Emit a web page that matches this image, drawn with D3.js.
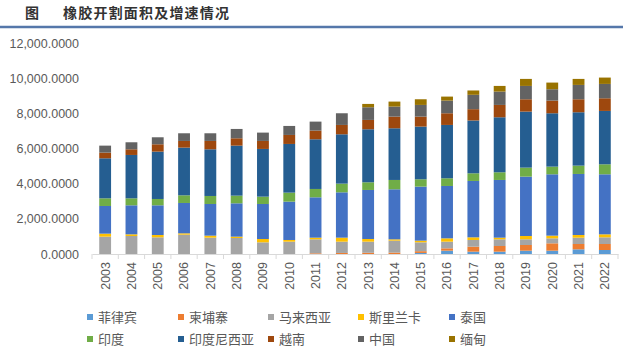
<!DOCTYPE html>
<html lang="zh">
<head>
    <meta charset="UTF-8"/>
    <title>橡胶开割面积及增速情况</title>
    <script src="https://cdn.jsdelivr.net/npm/d3@7"></script>
    <style>
        body { margin: 0; background: #fff; }
        text { font-family: "Liberation Sans", "Noto Sans CJK SC", sans-serif; }
    </style>
</head>
<body>
<div id="chart"></div>
<script>
    // data
    const years = ["2003", "2004", "2005", "2006", "2007", "2008", "2009", "2010", "2011", "2012",
        "2013", "2014", "2015", "2016", "2017", "2018", "2019", "2020", "2021", "2022"];
    const seriesNames = ["菲律宾", "柬埔寨", "马来西亚", "斯里兰卡", "泰国", "印度", "印度尼西亚", "越南", "中国", "缅甸"];
    const philippines = [0, 0, 0, 0, 0, 0, 0, 0, 0, 0, 0, 0, 60, 190, 133, 133, 190, 190, 265, 228];
    const cambodia = [0, 0, 0, 0, 0, 0, 0, 0, 40, 60, 70, 80, 100, 133, 284, 322, 322, 417, 304, 341];
    const malaysia = [986, 1024, 948, 1100, 929, 910, 664, 702, 795, 642, 632, 679, 504, 379, 380, 380, 323, 284, 360, 379];
    const sriLanka = [171, 95, 133, 76, 114, 76, 189, 95, 94, 227, 151, 76, 95, 189, 151, 94, 189, 152, 152, 171];
    const thailand = [1574, 1650, 1688, 1726, 1802, 1897, 1992, 2181, 2295, 2579, 2789, 2845, 3073, 2978, 3206, 3282, 3376, 3490, 3471, 3414];
    const india = [436, 398, 360, 436, 455, 436, 417, 512, 475, 494, 436, 531, 417, 437, 436, 436, 512, 436, 474, 569];
    const indonesia = [2276, 2466, 2694, 2712, 2655, 2844, 2713, 2769, 2825, 2806, 3016, 2939, 2996, 3034, 3003, 3129, 3187, 3035, 3035, 3035];
    const vietnam = [323, 322, 417, 380, 475, 418, 455, 512, 494, 532, 531, 664, 569, 664, 644, 702, 701, 720, 739, 720];
    const china = [397, 399, 398, 436, 436, 531, 474, 512, 511, 664, 720, 569, 664, 720, 816, 759, 759, 646, 816, 816];
    const myanmar = [0, 0, 0, 0, 0, 0, 0, 0, 0, 0, 190, 285, 322, 228, 247, 322, 399, 379, 342, 361];
    const yTicks = [0, 2000, 4000, 6000, 8000, 10000, 12000];

    const seriesValues = [philippines, cambodia, malaysia, sriLanka, thailand, india, indonesia, vietnam, china, myanmar];
    const colors = ["#5B9BD5", "#ED7D31", "#A5A5A5", "#FFC000", "#4472C4",
        "#70AD47", "#255E91", "#9E480E", "#636363", "#997300"];

    const W = 623, H = 353;
    const plot = {left: 92, right: 618, top: 43, bottom: 254};

    const svg = d3.select("#chart").append("svg")
        .attr("width", W)
        .attr("height", H);

    // title
    svg.append("text").attr("x", 25).attr("y", 18)
        .style("font-size", "14px").style("font-weight", "bold").attr("fill", "#333")
        .text("图");
    svg.append("text").attr("x", 63).attr("y", 18)
        .style("font-size", "14px").style("font-weight", "bold").attr("fill", "#333")
        .style("letter-spacing", "1.2px")
        .text("橡胶开割面积及增速情况");
    svg.append("line").attr("x1", 0).attr("x2", W).attr("y1", 27).attr("y2", 27)
        .attr("stroke", "#5577AA").attr("stroke-width", 2.5);

    // build table for the stack
    const table = years.map(function(y, i) {
        const row = {year: y};
        seriesNames.forEach(function(s, k) { row[s] = seriesValues[k][i]; });
        return row;
    });
    const stacked = d3.stack().keys(seriesNames)(table);

    const x = d3.scaleBand()
        .domain(years)
        .range([plot.left, plot.right])
        .paddingInner(0.55)
        .paddingOuter(0.275);

    const y = d3.scaleLinear()
        .domain([0, 12000])
        .range([plot.bottom, plot.top]);

    // y axis
    const yAxis = svg.append("g")
        .attr("transform", "translate(" + (plot.left - 10) + ",0)")
        .call(d3.axisLeft(y).tickValues(yTicks).tickSize(0).tickFormat(d3.format(",.4f")));
    yAxis.select(".domain").remove();
    yAxis.selectAll("text")
        .attr("fill", "#595959")
        .style("font-size", "12.5px")
        .style("font-family", "'Liberation Sans', sans-serif");

    // bars
    svg.append("g").selectAll("g")
        .data(stacked)
        .enter().append("g")
        .attr("fill", function(d, i) { return colors[i]; })
        .selectAll("rect")
        .data(function(d) { return d; })
        .enter().append("rect")
        .attr("x", function(d) { return x(d.data.year); })
        .attr("width", x.bandwidth())
        .attr("y", function(d) { return y(d[1]); })
        .attr("height", function(d) { return y(d[0]) - y(d[1]); });

    // x axis
    const xAxis = svg.append("g")
        .attr("transform", "translate(0," + plot.bottom + ")")
        .call(d3.axisBottom(x).tickSize(0).tickPadding(0));
    xAxis.select(".domain").attr("stroke", "#D9D9D9");
    xAxis.selectAll("text")
        .attr("fill", "#595959")
        .style("font-size", "12.5px")
        .attr("transform", "rotate(-90)")
        .attr("text-anchor", "end")
        .attr("dy", "0.35em")
        .attr("x", -8)
        .attr("y", 0);

    // tick marks between categories
    const step = x.step();
    const bounds = d3.range(years.length + 1).map(function(i) { return plot.left + (x.paddingOuter() - x.paddingInner() / 2) * step + i * step; });
    svg.append("g").selectAll("line")
        .data(bounds)
        .enter().append("line")
        .attr("x1", function(d) { return d; })
        .attr("x2", function(d) { return d; })
        .attr("y1", plot.bottom)
        .attr("y2", plot.bottom + 5)
        .attr("stroke", "#D9D9D9");

    // legend
    const legend = svg.append("g");
    const legendCols = [87, 178, 268, 358, 449];
    const legendRows = [317, 339];
    seriesNames.forEach(function(name, i) {
        const lx = legendCols[i % 5];
        const ly = legendRows[Math.floor(i / 5)];
        legend.append("rect")
            .attr("x", lx).attr("y", ly - 3)
            .attr("width", 6).attr("height", 6)
            .attr("fill", colors[i]);
        legend.append("text")
            .attr("x", lx + 11).attr("y", ly)
            .attr("dy", "0.35em")
            .attr("fill", "#595959")
            .style("font-size", "13px")
            .text(name);
    });
</script>
</body>
</html>
